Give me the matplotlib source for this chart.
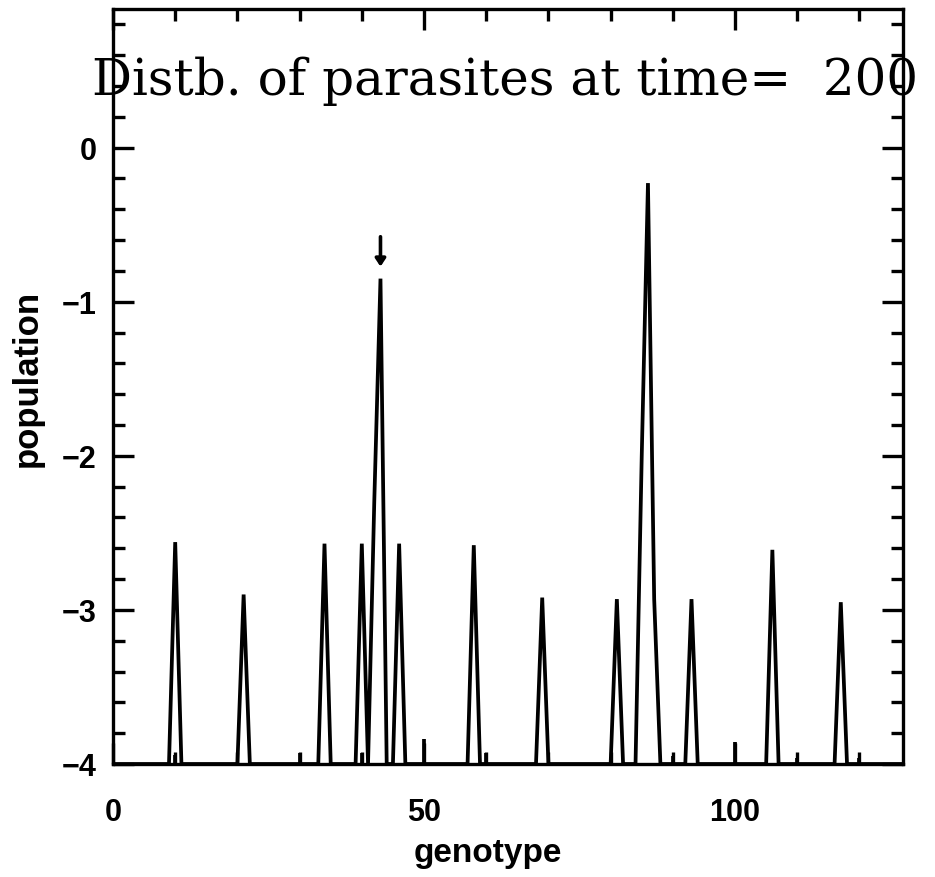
import numpy as np
import matplotlib
matplotlib.use("Agg")
import matplotlib.pyplot as plt
from matplotlib.ticker import MultipleLocator
from matplotlib.font_manager import FontProperties

# ---- data ----
n_genotypes = 128
floor_value = -4.0
peak_genotypes = [10, 21, 34, 40, 42, 43, 46, 58, 69, 81, 85, 86, 87, 93, 106, 117]
peak_values = [-2.56, -2.90, -2.57, -2.57, -2.30, -0.85, -2.57, -2.58, -2.92,
               -2.93, -2.00, -0.23, -2.93, -2.93, -2.61, -2.95]
bump_genotypes = [10, 30, 40, 50, 60, 90, 100, 110, 120]
bump_values = [-3.94, -3.93, -3.93, -3.84, -3.93, -3.95, -3.86, -3.96, -3.96]
marked_genotype = 43
title_text = "Distb. of parasites at time=  200"
x_label = "genotype"
y_label = "population"

genotype = np.arange(n_genotypes)
population = np.full(n_genotypes, floor_value)
population[peak_genotypes] = peak_values

fig = plt.figure(figsize=(9.35, 8.78), dpi=100)
ax = fig.add_axes([113 / 935, 1 - 765 / 878, (903 - 113) / 935, (765 - 10) / 878])

lw = 2.7
ax.plot(genotype, population, color="black", lw=lw, solid_joinstyle="miter")
ax.vlines(bump_genotypes, floor_value, bump_values, color="black", lw=lw)

ax.annotate("", xy=(marked_genotype, population[marked_genotype] + 0.06),
            xytext=(marked_genotype, population[marked_genotype] + 0.29),
            arrowprops=dict(arrowstyle="-|>,head_length=0.45,head_width=0.3",
                            color="black", lw=2.6))

ax.set_xlim(0, 127)
ax.set_ylim(-4, 0.9)
ax.xaxis.set_major_locator(MultipleLocator(50))
ax.xaxis.set_minor_locator(MultipleLocator(10))
ax.yaxis.set_major_locator(MultipleLocator(1))
ax.yaxis.set_minor_locator(MultipleLocator(0.2))

for s in ax.spines.values():
    s.set_linewidth(2.4)

ax.tick_params(which="both", direction="in", top=True, right=True, width=2.4)
ax.tick_params(which="major", length=15)
ax.tick_params(which="minor", length=8.5)
ax.tick_params(axis="y", pad=12)
ax.tick_params(axis="x", pad=24)

tick_fp = FontProperties(family="Liberation Sans", weight="bold", size=22)
for lab in ax.get_xticklabels() + ax.get_yticklabels():
    lab.set_fontproperties(tick_fp)

ax.set_xlabel(x_label, family="Liberation Sans", weight="bold", size=24)
ax.set_ylabel(y_label, family="Liberation Sans", weight="bold", size=25)
ax.xaxis.set_label_coords(0.475, -0.097)
ax.yaxis.set_label_coords(-0.088, 0.512)

fig.text(92 / 935, 1 - 95 / 878, title_text, family="DejaVu Serif", size=36,
         ha="left", va="baseline")

fig.savefig("out.png", dpi=100)
